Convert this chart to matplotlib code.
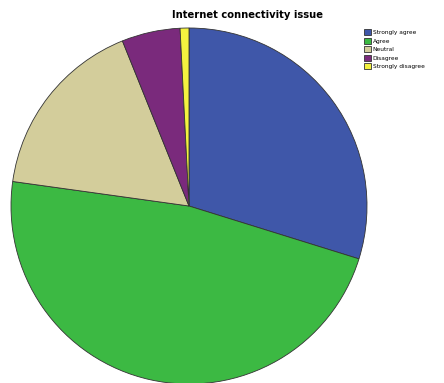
import matplotlib.pyplot as plt

# share of responses (%)
labels = ['Strongly agree', 'Agree', 'Neutral', 'Disagree', 'Strongly disagree']
values = [29.8, 47.4, 16.7, 5.3, 0.8]
colors = ['#3f57a9', '#3cb943', '#d3cd9b', '#7a2a7c', '#f4f23f']

fig = plt.figure(figsize=(4.44, 3.83), dpi=100)
fig.patch.set_facecolor('white')

# axes placed so the pie sits where it does in the reference
ax = fig.add_axes([11 / 444, -1 / 383, 356 / 444, 356 / 383])
wedges, _ = ax.pie(values, colors=colors, startangle=90, counterclock=False,
                   radius=1.0, wedgeprops=dict(edgecolor='#333333', linewidth=0.6))
ax.set_xlim(-1.0, 1.0)
ax.set_ylim(-1.0, 1.0)
ax.set_aspect('equal')

fig.text(248 / 444, 1 - 15 / 383, 'Internet connectivity issue', ha='center', va='center',
         fontsize=7.2, fontweight='bold')

fig.legend(wedges, labels, loc='upper left', bbox_to_anchor=(364 / 444, 1 - 29 / 383),
           frameon=False, fontsize=4.2, handlelength=1.2, handleheight=1.2,
           handletextpad=0.3, labelspacing=0.45, borderaxespad=0, borderpad=0)

fig.savefig('out.png', dpi=100)
